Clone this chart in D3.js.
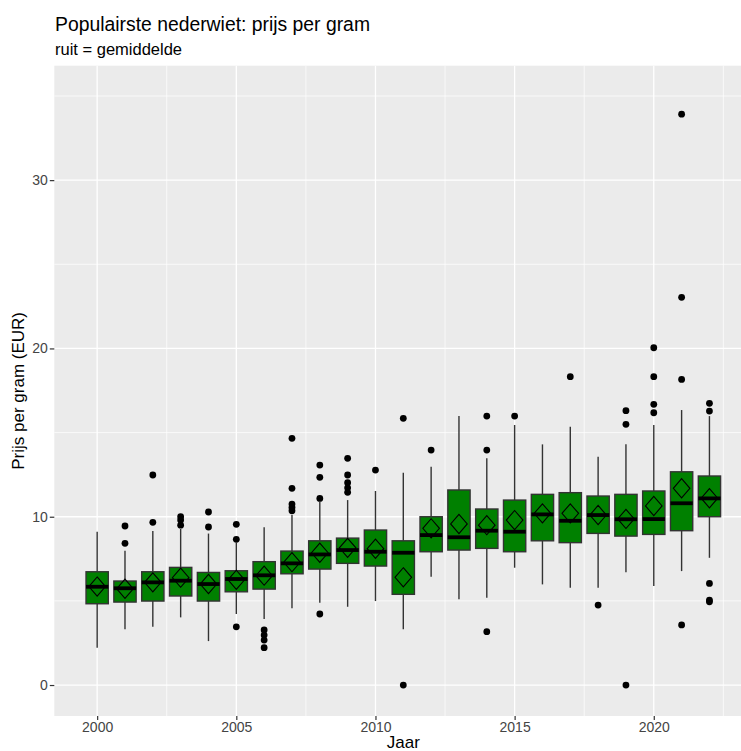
<!DOCTYPE html>
<html><head><meta charset="utf-8">
<script src="https://cdn.jsdelivr.net/npm/d3@7"></script>
<style>body{margin:0;background:#fff} svg{display:block}</style>
</head><body>
<svg id="c" width="741" height="751"></svg>
<script>
const years       = [2000,2001,2002,2003,2004,2005,2006,2007,2008,2009,2010,2011,2012,2013,2014,2015,2016,2017,2018,2019,2020,2021,2022];
const whiskerLow  = [2.22,3.31,3.46,4.02,2.61,4.22,3.92,4.56,4.89,4.65,4.99,3.31,6.43,5.09,5.19,6.97,5.98,5.78,5.78,6.70,5.88,6.77,7.56];
const q1          = [4.83,4.93,4.99,5.29,4.99,5.54,5.70,6.61,6.89,7.23,7.07,5.39,7.92,8.02,8.12,7.92,8.57,8.46,9.01,8.85,8.95,9.17,10.00];
const median      = [5.84,5.75,6.10,6.20,6.00,6.30,6.52,7.23,7.76,8.02,7.92,7.86,8.91,8.78,9.17,9.11,10.14,9.76,10.10,9.85,9.86,10.80,11.09];
const q3          = [6.73,6.18,6.73,6.99,6.69,6.79,7.33,7.96,8.57,8.73,9.21,8.57,10.00,11.59,10.46,10.99,11.33,11.43,11.23,11.33,11.53,12.67,12.42];
const whiskerHigh = [9.11,7.98,9.15,9.27,9.00,8.46,9.37,10.10,10.89,10.99,11.53,12.61,12.97,15.98,13.47,15.45,14.30,15.35,13.57,14.30,15.45,16.34,15.98];
const means       = [5.85,5.72,6.10,6.38,6.00,6.25,6.50,7.30,7.86,8.15,8.10,6.40,9.31,9.57,9.50,9.80,10.20,10.20,10.10,9.87,10.64,11.69,11.10];
const outliers    = [
  [], [8.42,9.45], [9.67,12.48], [9.5,9.8,10.0], [9.39,10.28], [3.46,8.66,9.55],
  [2.22,2.67,2.97,3.27], [10.35,10.55,10.75,11.69,14.66], [4.22,11.09,12.34,13.07],
  [11.45,11.72,12.02,12.48,13.47], [12.77], [0,15.85], [13.96], [], [3.17,13.96,15.98],
  [15.98], [], [18.32], [4.75], [0,15.49,16.3], [16.18,16.68,18.32,20.04],
  [3.57,18.16,23.04,33.92], [4.95,5.05,6.04,16.28,16.74]
];
const yTicks = [0,10,20,30];
const yMinor = [5,15,25,35];
const xTicks = [2000,2005,2010,2015,2020];
const xMinor = [2002.5,2007.5,2012.5,2017.5,2022.5];
const titleText = "Populairste nederwiet: prijs per gram";
const subtitleText = "ruit = gemiddelde";
const xTitle = "Jaar";
const yTitle = "Prijs per gram (EUR)";

const FONT = "'Liberation Sans', Arial, sans-serif";
const P = {l:54.3, r:752.3, t:65.7, b:716};
const x = d3.scaleLinear().domain([1998.46, 2023.54]).range([P.l, P.r]);
const y = d3.scaleLinear().domain([-1.84, 36.8]).range([P.b, P.t]);
const svg = d3.select('#c');

svg.append('rect').attr('x',P.l).attr('y',P.t).attr('width',P.r-P.l).attr('height',P.b-P.t).attr('fill','#EBEBEB');
const grid = svg.append('g');
grid.selectAll('.ym').data(yMinor).join('line').attr('x1',P.l).attr('x2',P.r).attr('y1',d=>y(d)).attr('y2',d=>y(d)).attr('stroke','#fff').attr('stroke-width',0.7);
grid.selectAll('.xm').data(xMinor).join('line').attr('y1',P.t).attr('y2',P.b).attr('x1',d=>x(d)).attr('x2',d=>x(d)).attr('stroke','#fff').attr('stroke-width',0.7);
grid.selectAll('.yM').data(yTicks).join('line').attr('x1',P.l).attr('x2',P.r).attr('y1',d=>y(d)).attr('y2',d=>y(d)).attr('stroke','#fff').attr('stroke-width',1.3);
grid.selectAll('.xM').data(xTicks).join('line').attr('y1',P.t).attr('y2',P.b).attr('x1',d=>x(d)).attr('x2',d=>x(d)).attr('stroke','#fff').attr('stroke-width',1.3);

const rows = years.map((yr,i)=>({yr, lo:whiskerLow[i], q1:q1[i], med:median[i], q3:q3[i], hi:whiskerHigh[i], mean:means[i], out:outliers[i]}));
const bw = 0.8;
const g = svg.append('g');
const bx = g.selectAll('g.box').data(rows).join('g').attr('class','box');
bx.append('line').attr('x1',d=>x(d.yr)).attr('x2',d=>x(d.yr)).attr('y1',d=>y(d.q3)).attr('y2',d=>y(d.hi)).attr('stroke','#333').attr('stroke-width',1.4);
bx.append('line').attr('x1',d=>x(d.yr)).attr('x2',d=>x(d.yr)).attr('y1',d=>y(d.q1)).attr('y2',d=>y(d.lo)).attr('stroke','#333').attr('stroke-width',1.4);
bx.append('rect').attr('x',d=>x(d.yr-bw/2)).attr('width',d=>x(d.yr+bw/2)-x(d.yr-bw/2))
  .attr('y',d=>y(d.q3)).attr('height',d=>y(d.q1)-y(d.q3)).attr('fill','#008000').attr('stroke','#333').attr('stroke-width',1.4);
bx.append('line').attr('x1',d=>x(d.yr-bw/2)).attr('x2',d=>x(d.yr+bw/2)).attr('y1',d=>y(d.med)).attr('y2',d=>y(d.med)).attr('stroke','#000').attr('stroke-width',3.8);
bx.selectAll('circle').data(d=>d.out.map(v=>({yr:d.yr,v}))).join('circle')
  .attr('cx',d=>x(d.yr)).attr('cy',d=>y(d.v)).attr('r',3.4).attr('fill','#000');
const hw = 8.3, hh = 9.6;
bx.append('path').attr('d',d=>{const cx=x(d.yr), cy=y(d.mean); return `M${cx},${cy-hh}L${cx+hw},${cy}L${cx},${cy+hh}L${cx-hw},${cy}Z`;})
  .attr('fill','none').attr('stroke','#000').attr('stroke-width',1.1);

// axes
const ax = svg.append('g').attr('transform',`translate(${P.l},0)`)
  .call(d3.axisLeft(y).tickValues(yTicks).tickSize(4.5).tickPadding(2).tickFormat(d3.format('d')));
const bxAxis = svg.append('g').attr('transform',`translate(0,${P.b})`)
  .call(d3.axisBottom(x).tickValues(xTicks).tickSize(4).tickPadding(2).tickFormat(d3.format('d')));
[ax,bxAxis].forEach(a=>{
  a.select('.domain').remove();
  a.selectAll('.tick line').attr('stroke','#333').attr('stroke-width',1.2);
  a.selectAll('.tick text').attr('fill','#444').style('font-family',FONT).style('font-size','14px');
});

svg.append('text').attr('x',55).attr('y',31).text(titleText)
  .style('font-family',FONT).style('font-size','20.5px').attr('fill','#000')
  .attr('textLength',315).attr('lengthAdjust','spacingAndGlyphs');
svg.append('text').attr('x',55).attr('y',54.5).text(subtitleText)
  .style('font-family',FONT).style('font-size','16px').attr('fill','#000')
  .attr('textLength',127).attr('lengthAdjust','spacingAndGlyphs');
svg.append('text').attr('x',(P.l+P.r)/2).attr('y',748).attr('text-anchor','middle').text(xTitle)
  .style('font-family',FONT).style('font-size','17px').attr('fill','#000');
svg.append('text').attr('transform',`translate(24,${(P.t+P.b)/2}) rotate(-90)`).attr('text-anchor','middle').text(yTitle)
  .style('font-family',FONT).style('font-size','17px').attr('fill','#000');
</script>
</body></html>
